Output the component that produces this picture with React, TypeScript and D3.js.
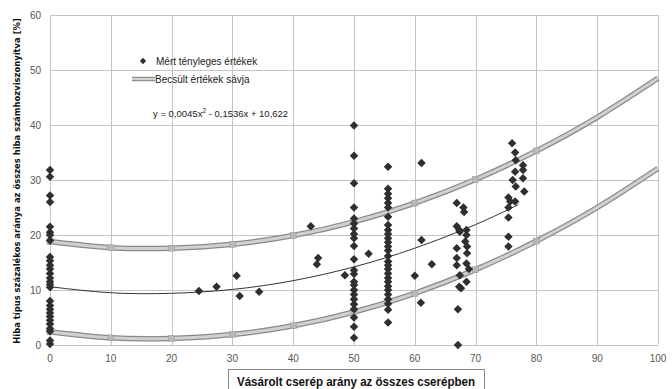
import { useEffect, useRef } from "react";
import * as d3 from "d3";

const colZero = [31.8, 30.6, 27.2, 26.0, 21.5, 20.5, 20.0, 19.0, 16.0, 15.3, 14.5, 13.8, 13.0, 12.2, 11.5, 11.0, 10.5, 8.0, 7.2, 6.5, 5.8, 5.2, 4.5, 3.8, 3.0, 2.5, 0.8, 0.2];
const colFifty = [39.9, 34.4, 29.4, 25.0, 23.0, 22.1, 21.2, 20.2, 19.4, 18.0, 15.6, 13.6, 12.9, 11.5, 10.9, 10.0, 9.2, 8.3, 7.4, 6.5, 5.0, 3.3, 1.3];
const colFiftyFive = [32.4, 28.4, 27.5, 26.7, 25.8, 25.0, 23.3, 21.8, 20.9, 20.2, 19.4, 18.7, 17.9, 17.2, 16.2, 15.2, 14.5, 13.8, 13.0, 12.2, 11.5, 10.7, 10.0, 9.2, 8.3, 7.5, 6.4, 4.1];
const otherPoints: [number, number][] = [
  [24.5, 9.8], [27.4, 10.6], [30.7, 12.6], [31.2, 8.9], [34.4, 9.7],
  [42.9, 21.6], [44.1, 15.8], [43.9, 14.7], [48.5, 12.7], [52.4, 16.6],
  [60.0, 12.6], [61.1, 33.1], [61.1, 19.1], [61.0, 7.7], [62.8, 14.7],
  [66.9, 25.8], [68.0, 25.0], [68.1, 24.2], [66.9, 21.6], [67.3, 20.9], [68.5, 20.9],
  [68.5, 20.0], [67.4, 20.6], [68.3, 18.8], [66.9, 17.6], [68.6, 17.9], [68.6, 16.7],
  [66.9, 15.8], [66.9, 14.5], [68.5, 14.8], [68.9, 13.8], [67.4, 12.7], [68.5, 11.5],
  [67.3, 10.6], [67.6, 10.3], [67.1, 6.5], [67.1, 0],
  [76.0, 36.7], [76.5, 35.0], [76.6, 33.6], [77.8, 32.7], [76.5, 31.5], [77.8, 31.8],
  [76.1, 30.0], [77.8, 30.3], [76.6, 28.8], [78.0, 27.9], [75.4, 26.8], [75.7, 26.1],
  [76.5, 26.1], [75.4, 25.0], [75.4, 23.2], [75.4, 19.7], [75.4, 17.9],
];

// band of estimated values (upper / lower), sampled every 10
const bandX = [0, 10, 20, 30, 40, 50, 60, 70, 80, 90, 100];
const bandUpper = [18.8, 17.7, 17.6, 18.3, 19.9, 22.4, 25.8, 30.1, 35.3, 41.4, 48.5];
const bandLower = [2.4, 1.3, 1.2, 1.9, 3.5, 6.0, 9.4, 13.7, 18.9, 25.0, 32.1];

// trend line  y = 0,0045x² - 0,1536x + 10,622
const trendX = [0, 10, 20, 30, 40, 50, 60, 70, 77];
const trendY = [10.6, 9.5, 9.4, 10.1, 11.7, 14.2, 17.6, 21.9, 25.5];

const xTicks = [0, 10, 20, 30, 40, 50, 60, 70, 80, 90, 100];
const yTicks = [0, 10, 20, 30, 40, 50, 60];

export default function App() {
  const width = 672;
  const height = 389;
  const svgRef = useRef<SVGSVGElement>(null);

  useEffect(() => {
    const svg = d3.select(svgRef.current);
    svg.selectAll("*").remove();

    const x = d3.scaleLinear().domain([0, 100]).range([50, 658]);
    const y = d3.scaleLinear().domain([0, 60]).range([345, 15]);
    const font = "Liberation Sans, Arial, sans-serif";
    const narrow = "'Liberation Sans Narrow', 'DejaVu Sans Condensed', sans-serif";

    // grid
    const grid = svg.append("g").attr("stroke", "#c4c4c4").attr("stroke-width", 1);
    grid.selectAll("line.v").data(xTicks).join("line")
      .attr("x1", (d) => Math.round(x(d)) + 0.5).attr("x2", (d) => Math.round(x(d)) + 0.5)
      .attr("y1", y(60)).attr("y2", y(0));
    grid.selectAll("line.h").data(yTicks).join("line")
      .attr("y1", (d) => Math.round(y(d)) + 0.5).attr("y2", (d) => Math.round(y(d)) + 0.5)
      .attr("x1", x(0)).attr("x2", x(100));

    // tick labels
    svg.append("g").selectAll("text").data(xTicks).join("text")
      .attr("x", (d) => x(d)).attr("y", 362)
      .attr("text-anchor", "middle").attr("font-size", 10).attr("font-family", font)
      .attr("fill", "#555").text((d) => d);
    svg.append("g").selectAll("text").data(yTicks).join("text")
      .attr("x", 41).attr("y", (d) => y(d) + 3.5)
      .attr("text-anchor", "end").attr("font-size", 10).attr("font-family", font)
      .attr("fill", "#555").text((d) => d);

    // band lines
    const bandLine = d3.line<number>()
      .x((_, i) => x(bandX[i]))
      .y((d) => y(d))
      .curve(d3.curveNatural);
    [bandUpper, bandLower].forEach((vals) => {
      svg.append("path").attr("d", bandLine(vals)).attr("fill", "none")
        .attr("stroke", "#8a8a8a").attr("stroke-width", 5.5);
      svg.append("path").attr("d", bandLine(vals)).attr("fill", "none")
        .attr("stroke", "#d0d0d0").attr("stroke-width", 3);
      svg.append("g").selectAll("rect").data(vals.slice(0, 9)).join("rect")
        .attr("x", (_, i) => x(bandX[i]) - 3).attr("y", (d) => y(d) - 3)
        .attr("width", 6).attr("height", 6)
        .attr("fill", "#b8b8b8").attr("stroke", "#999").attr("stroke-width", 0.5);
    });

    // trend line
    const trend = d3.line<number>()
      .x((_, i) => x(trendX[i]))
      .y((d) => y(d))
      .curve(d3.curveNatural);
    svg.append("path").attr("d", trend(trendY)).attr("fill", "none")
      .attr("stroke", "#333").attr("stroke-width", 1);

    // measured points
    const pts: [number, number][] = [
      ...colZero.map((v) => [0, v] as [number, number]),
      ...colFifty.map((v) => [50, v] as [number, number]),
      ...colFiftyFive.map((v) => [55.6, v] as [number, number]),
      ...otherPoints,
    ];
    svg.append("g").selectAll("rect").data(pts).join("rect")
      .attr("width", 6).attr("height", 6)
      .attr("x", -3).attr("y", -3)
      .attr("transform", (d) => `translate(${x(d[0])},${y(d[1])}) rotate(45)`)
      .attr("fill", "#2f2f2f");

    // legend
    svg.append("rect").attr("width", 4.5).attr("height", 4.5).attr("x", -2.25).attr("y", -2.25)
      .attr("transform", "translate(143,61) rotate(45)").attr("fill", "#2f2f2f");
    svg.append("text").attr("x", 156).attr("y", 64.5).attr("font-size", 10)
      .attr("font-family", font).attr("fill", "#222").text("Mért tényleges értékek");
    svg.append("line").attr("x1", 132).attr("x2", 155).attr("y1", 79).attr("y2", 79)
      .attr("stroke", "#8a8a8a").attr("stroke-width", 4.5);
    svg.append("line").attr("x1", 132).attr("x2", 155).attr("y1", 79).attr("y2", 79)
      .attr("stroke", "#d2d2d2").attr("stroke-width", 2.2);
    svg.append("text").attr("x", 155).attr("y", 82.5).attr("font-size", 10)
      .attr("font-family", font).attr("fill", "#222").text("Becsült értékek sávja");
    const eq = svg.append("text").attr("x", 153).attr("y", 117).attr("font-size", 9.5)
      .attr("font-family", font).attr("fill", "#222");
    eq.append("tspan").text("y = 0,0045x");
    eq.append("tspan").attr("dy", -4).attr("font-size", 6.5).text("2");
    eq.append("tspan").attr("dy", 4).text(" - 0,1536x + 10,622");

    // axis titles
    svg.append("rect").attr("x", 228.5).attr("y", 369.5).attr("width", 256).attr("height", 24)
      .attr("fill", "white").attr("stroke", "#888");
    svg.append("text").attr("x", 356).attr("y", 386).attr("text-anchor", "middle")
      .attr("font-size", 13.5).attr("font-weight", "bold").attr("font-family", font)
      .attr("fill", "#111").attr("textLength", 238).attr("lengthAdjust", "spacingAndGlyphs")
      .text("Vásárolt cserép arány az összes cserépben");

    // y title: size the font so the text fits the plot height
    const yTitle = svg.append("g").attr("transform", "translate(20,181) rotate(-90)")
      .append("text")
      .attr("text-anchor", "middle").attr("font-size", 11).attr("font-weight", "bold")
      .attr("font-family", narrow).attr("fill", "#111")
      .text("Hiba típus százalékos aránya az összes hiba számhozviszonyítva [%]");
    const len = (yTitle.node() as SVGTextElement).getComputedTextLength();
    if (len > 0) yTitle.attr("font-size", Math.min(11.5, (11 * 326) / len));
  }, []);

  return (
    <svg
      ref={svgRef}
      width={width}
      height={height}
      style={{ position: "absolute", left: 0, top: 0, background: "white" }}
    />
  );
}
